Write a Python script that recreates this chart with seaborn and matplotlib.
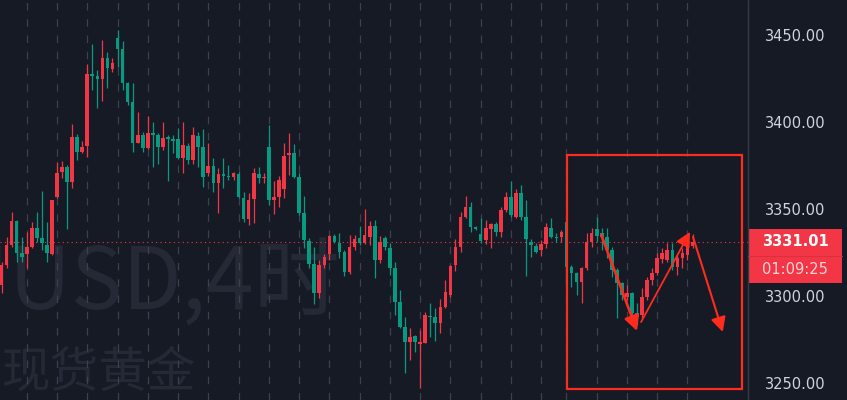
import numpy as np
import pandas as pd
import matplotlib
matplotlib.use("Agg")
import matplotlib.pyplot as plt
import seaborn as sns
from matplotlib.patches import Rectangle, FancyArrowPatch

# ---------------- data (XAUUSD 4H candles) ----------------
opens = [3306.4, 3317.8, 3329.3, 3343.1, 3324.7, 3324.1, 3328.2, 3339.1, 3333.4, 3329.3,
         3324.1, 3356.9, 3371.3, 3374.1, 3365.5, 3391.4, 3382.8, 3386.2, 3427.6, 3426.4,
         3424.7, 3436.8, 3430.4, 3448.3, 3442.0, 3422.4, 3411.5, 3387.9, 3392.5, 3385.0,
         3393.7, 3392.5, 3385.6, 3391.4, 3390.2, 3390.2, 3379.3, 3386.2, 3378.2, 3391.9,
         3385.6, 3370.7, 3374.7, 3365.0, 3370.1, 3369.0, 3368.4, 3370.1, 3356.3, 3344.3,
         3355.8, 3370.1, 3367.8, 3385.6, 3355.2, 3356.9, 3361.5, 3381.0, 3382.2, 3368.4,
         3347.7, 3331.6, 3318.4, 3301.7, 3317.8, 3324.1, 3334.5, 3330.5, 3325.3, 3313.8,
         3328.2, 3333.4, 3330.5, 3333.9, 3340.3, 3320.7, 3333.4, 3327.6, 3316.1, 3296.6,
         3282.2, 3273.6, 3277.0, 3272.4, 3273.0, 3288.5, 3287.9, 3284.5, 3293.7, 3300.6,
         3317.8, 3328.2, 3345.4, 3351.1, 3339.7, 3335.7, 3332.2, 3338.5, 3341.4, 3336.8,
         3349.5, 3356.9, 3345.4, 3359.2, 3345.4, 3331.0, 3328.7, 3326.5, 3329.9, 3339.1,
         3333.9, 3333.9, 3342.6, 3316.7, 3313.3, 3308.1, 3316.1, 3331.0, 3338.5, 3336.2,
         3333.9, 3326.5, 3315.0, 3307.5, 3299.5, 3301.7, 3290.2, 3289.1, 3299.5, 3309.2,
         3313.3, 3321.3, 3320.7, 3326.5, 3316.7, 3321.9, 3323.6, 3328.5]
highs = [3319.6, 3333.9, 3348.3, 3343.7, 3333.9, 3336.8, 3342.6, 3348.3, 3360.4, 3342.6,
         3355.2, 3377.0, 3377.6, 3375.3, 3398.8, 3393.1, 3389.1, 3433.3, 3444.8, 3429.9,
         3447.1, 3440.2, 3436.8, 3452.9, 3446.5, 3423.0, 3422.4, 3405.7, 3394.2, 3403.5,
         3400.0, 3393.7, 3400.0, 3392.5, 3392.5, 3396.5, 3400.0, 3387.9, 3397.1, 3394.2,
         3396.0, 3387.9, 3379.3, 3373.6, 3379.3, 3375.3, 3371.3, 3371.3, 3359.8, 3359.2,
         3373.6, 3374.1, 3370.7, 3398.3, 3366.1, 3369.0, 3387.9, 3393.7, 3387.3, 3370.7,
         3357.5, 3333.4, 3328.2, 3320.7, 3324.1, 3335.1, 3335.7, 3336.2, 3326.5, 3335.1,
         3335.1, 3340.3, 3350.0, 3343.1, 3343.7, 3334.5, 3334.5, 3330.5, 3319.6, 3303.5,
         3287.9, 3281.6, 3277.6, 3280.5, 3290.8, 3296.0, 3293.1, 3298.3, 3309.2, 3317.8,
         3332.8, 3348.3, 3357.5, 3354.0, 3340.3, 3344.9, 3343.7, 3342.0, 3342.6, 3351.1,
         3359.8, 3366.1, 3361.5, 3363.8, 3355.2, 3332.8, 3330.5, 3332.2, 3342.0, 3344.9,
         3336.2, 3338.0, 3342.6, 3317.8, 3313.8, 3316.7, 3336.2, 3339.1, 3345.4, 3339.1,
         3339.1, 3328.2, 3316.1, 3308.1, 3306.4, 3302.3, 3296.0, 3304.6, 3311.0, 3316.1,
         3324.7, 3327.6, 3330.5, 3330.5, 3323.6, 3327.6, 3331.0, 3335.7]
lows = [3301.7, 3316.1, 3328.2, 3319.6, 3319.6, 3316.1, 3327.6, 3331.0, 3326.5, 3319.6,
        3323.6, 3356.3, 3367.8, 3338.5, 3362.1, 3378.2, 3382.2, 3379.9, 3418.4, 3408.0,
        3412.1, 3419.5, 3428.7, 3431.6, 3418.4, 3409.8, 3382.8, 3387.9, 3382.8, 3384.5,
        3374.1, 3375.9, 3383.9, 3366.1, 3382.2, 3378.7, 3370.7, 3375.9, 3375.9, 3374.1,
        3362.7, 3369.0, 3359.8, 3347.7, 3362.1, 3366.7, 3366.7, 3356.3, 3342.6, 3340.8,
        3342.0, 3365.0, 3365.0, 3352.3, 3347.2, 3351.1, 3356.3, 3369.6, 3367.8, 3346.6,
        3327.6, 3316.1, 3295.4, 3298.9, 3316.1, 3320.7, 3330.5, 3321.9, 3311.5, 3312.7,
        3326.5, 3329.3, 3329.9, 3329.3, 3310.4, 3319.0, 3326.5, 3312.1, 3289.1, 3281.6,
        3255.7, 3263.2, 3267.8, 3247.1, 3273.0, 3276.4, 3274.1, 3278.7, 3293.1, 3299.5,
        3314.4, 3325.3, 3344.9, 3336.8, 3338.0, 3330.5, 3329.9, 3327.6, 3334.5, 3333.9,
        3348.3, 3345.4, 3344.9, 3343.7, 3311.5, 3322.4, 3324.7, 3323.0, 3327.6, 3333.4,
        3331.0, 3331.0, 3306.4, 3305.2, 3300.6, 3296.0, 3315.0, 3328.2, 3331.0, 3326.5,
        3321.9, 3311.0, 3287.4, 3297.7, 3297.7, 3289.1, 3283.3, 3287.4, 3297.7, 3306.4,
        3312.1, 3319.0, 3319.6, 3315.0, 3312.1, 3316.1, 3320.7, 3327.6]
closes = [3317.8, 3329.3, 3343.1, 3324.7, 3322.4, 3328.2, 3339.1, 3333.4, 3330.5, 3324.7,
          3355.2, 3370.7, 3374.1, 3365.5, 3391.4, 3382.8, 3385.6, 3427.6, 3426.4, 3424.7,
          3436.8, 3431.0, 3433.9, 3442.0, 3422.4, 3411.5, 3387.9, 3392.5, 3385.0, 3393.7,
          3392.5, 3385.6, 3390.8, 3390.2, 3389.1, 3379.3, 3386.8, 3378.2, 3392.5, 3385.6,
          3368.4, 3374.7, 3365.0, 3370.1, 3369.0, 3368.4, 3370.7, 3356.9, 3344.3, 3355.2,
          3370.7, 3367.8, 3368.4, 3355.2, 3356.9, 3366.7, 3380.5, 3382.2, 3368.4, 3347.7,
          3332.2, 3318.4, 3301.7, 3317.8, 3322.4, 3334.5, 3331.0, 3325.3, 3313.8, 3328.2,
          3332.8, 3330.5, 3335.1, 3340.3, 3320.7, 3331.0, 3328.2, 3316.1, 3296.6, 3282.2,
          3273.6, 3276.4, 3273.6, 3273.6, 3289.1, 3287.9, 3284.5, 3293.7, 3302.3, 3317.3,
          3328.2, 3345.4, 3351.1, 3339.7, 3338.5, 3331.6, 3339.1, 3341.4, 3336.8, 3349.5,
          3356.9, 3346.6, 3359.2, 3345.4, 3332.8, 3329.3, 3325.3, 3329.9, 3339.7, 3333.9,
          3333.4, 3336.8, 3316.7, 3313.3, 3308.1, 3316.1, 3331.0, 3336.2, 3334.5, 3333.9,
          3326.5, 3315.0, 3307.5, 3300.6, 3301.7, 3290.2, 3287.9, 3299.5, 3309.2, 3313.3,
          3321.9, 3324.7, 3326.5, 3316.7, 3321.9, 3324.7, 3330.5, 3331.01]

day_starts = [5, 11, 17, 23, 29, 35, 41, 47, 53, 59, 65, 71, 77, 83, 89, 95, 101, 107,
              112, 118, 124, 130, 136]
price_ticks = [3250, 3300, 3350, 3400, 3450]
last_price = 3331.01
countdown = "01:09:25"
watermark_symbol = "XAUUSD,4时"
watermark_name = "现货黄金"

# annotation geometry (bar index, price)
box = (112.1, 146.8, 3246.5, 3381.0)
arrows = [((118.9, 3335.1), (126.0, 3279.9), 1.9),
          ((126.8, 3285.0), (136.5, 3336.8), 1.3),
          ((137.1, 3333.9), (143.0, 3279.3), 1.5)]

# ---------------- style ----------------
BG = "#161a25"
UP = "#f23645"
DOWN = "#089981"
GRID = "#3d414d"
TXT = "#d1d4dc"
ANN = "#ff2b1f"

sns.set_theme(style="dark", rc={"axes.facecolor": BG, "figure.facecolor": BG,
                                "axes.edgecolor": BG, "axes.grid": False})
plt.rcParams['font.family'] = ['DejaVu Sans', 'Noto Sans CJK SC']

df = pd.DataFrame({"open": opens, "high": highs, "low": lows, "close": closes})
df["idx"] = np.arange(len(df))
df["up"] = df["close"] >= df["open"]
df["color"] = np.where(df["up"], UP, DOWN)
df["bottom"] = df[["open", "close"]].min(axis=1)
df["height"] = (df["close"] - df["open"]).abs().clip(lower=0.6)

W, H = 847, 400
fig = plt.figure(figsize=(W / 100, H / 100), dpi=100)
ax_w = 748 / W
ax = fig.add_axes([0, 0, ax_w, 1])
ax.set_facecolor(BG)

x0 = -0.3
x1 = 148.0
y0 = 3240.2
y1 = 3470.1
ax.set_xlim(x0, x1)
ax.set_ylim(y0, y1)

# watermark
ax.text(0.455, 0.225, watermark_symbol, transform=ax.transAxes, ha="right", va="baseline",
        fontsize=62, color="#242935", family=["Noto Sans CJK SC", "DejaVu Sans"], zorder=0)
ax.text(0.003, 0.068, watermark_name, transform=ax.transAxes, ha="left", va="center",
        fontsize=35, color="#242935", family=["Noto Sans CJK SC"], zorder=0)

# vertical dashed grid
for d in day_starts:
    ax.axvline(d, color=GRID, lw=0.9, ls=(0, (6, 7)), zorder=1)

# price line
ax.axhline(last_price, color=UP, lw=0.8, ls=(0, (1, 3)), zorder=2)

# candles
ax.vlines(df["idx"], df["low"], df["high"], colors=df["color"], lw=0.9, zorder=3)
ax.bar(df["idx"], df["height"], bottom=df["bottom"], width=0.72, color=df["color"],
       linewidth=0, zorder=4)

# annotations
bx0, bx1, by0, by1 = box
ax.add_patch(Rectangle((bx0, by0), bx1 - bx0, by1 - by0, fill=False, ec=ANN, lw=1.6, zorder=6))
for (s, e, lw) in arrows:
    ax.add_patch(FancyArrowPatch(s, e, arrowstyle="-|>,head_length=0.55,head_width=0.28",
                                 mutation_scale=16, color=ANN, lw=lw, zorder=7,
                                 shrinkA=0, shrinkB=0))

# right price scale
ax.yaxis.tick_right()
ax.set_yticks(price_ticks)
ax.set_yticklabels([f"{v:.2f}" for v in price_ticks])
ax.tick_params(axis="y", length=0, pad=12, labelsize=10.5, labelcolor=TXT)
ax.set_xticks([])
for s in ax.spines.values():
    s.set_visible(False)

# separator line between chart and scale
fig.add_artist(plt.Line2D([ax_w, ax_w], [0, 1], transform=fig.transFigure,
                          color="#363a45", lw=1))

# last price label
lbl_x0 = 748 / W
lbl_x1 = 842 / W
top = 1 - 229 / H
bot = 1 - 283 / H
fig.add_artist(Rectangle((lbl_x0, bot), lbl_x1 - lbl_x0, top - bot, transform=fig.transFigure,
                         fc=UP, ec="none"))
fig.add_artist(plt.Line2D([lbl_x0, lbl_x1], [1 - 256 / H] * 2, transform=fig.transFigure,
                          color="#d92f3e", lw=0.8))
cx = (lbl_x0 + lbl_x1) / 2
fig.text(cx, 1 - 242 / H, f"{last_price:.2f}", ha="center", va="center", color="white",
         fontsize=10.5, fontweight="bold")
fig.text(cx, 1 - 269 / H, countdown, ha="center", va="center", color="#fdd3d7",
         fontsize=10.5)

fig.savefig("out.png", dpi=100, facecolor=BG)
